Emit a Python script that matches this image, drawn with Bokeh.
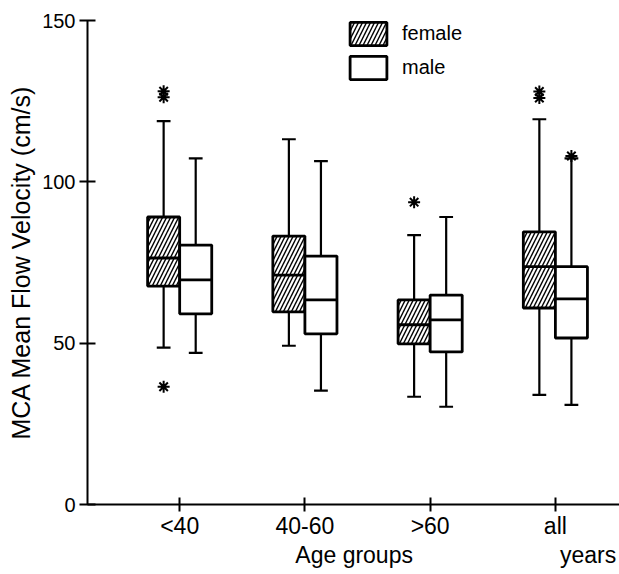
from bokeh.plotting import figure
from bokeh.models import Range1d, FixedTicker, Legend, LegendItem, ColumnDataSource
from bokeh.embed import file_html
from bokeh.resources import INLINE

# ---- data ----
groups = ["<40", "40-60", ">60", "all"]

f_low = [48.6, 49.2, 33.4, 34.0]
f_q1 = [67.7, 59.7, 49.8, 60.9]
f_med = [76.4, 71.1, 55.7, 73.7]
f_q3 = [89.1, 83.2, 63.4, 84.5]
f_up = [118.8, 113.2, 83.5, 119.4]

m_low = [47.0, 35.3, 30.3, 30.9]
m_q1 = [59.1, 52.9, 47.3, 51.6]
m_med = [69.6, 63.4, 57.2, 63.7]
m_q3 = [80.4, 77.0, 64.9, 73.7]
m_up = [107.3, 106.4, 89.1, 107.3]

f_out_group = ["<40", "<40", "<40", ">60", "all", "all"]
f_out_val = [128.1, 126.2, 36.5, 93.7, 128.0, 126.0]
m_out_group = ["all"]
m_out_val = [108.0]

y_ticks = [0, 50, 100, 150]
x_title = "Age groups"
x_unit = "years"
y_title = "MCA Mean Flow Velocity (cm/s)"

FONT = "Liberation Sans"
OFF = 0.128
BW = 0.256
CAP = 0.055

p = figure(width=619, height=570, x_range=Range1d(-0.736, 3.512), y_range=Range1d(0, 150),
           output_backend="svg", toolbar_location=None,
           min_border_left=87, min_border_right=0, min_border_top=20, min_border_bottom=65)
p.outline_line_color = None
p.xgrid.visible = False
p.ygrid.visible = False
p.background_fill_color = "white"
p.border_fill_color = "white"


def draw(low, q1, med, q3, up, offset, hatch):
    xs = [i + offset for i in range(len(groups))]
    src = ColumnDataSource(dict(
        x=xs, low=low, q1=q1, med=med, q3=q3, up=up,
        xl=[x - BW / 2 for x in xs], xr=[x + BW / 2 for x in xs],
        cl=[x - CAP for x in xs], cr=[x + CAP for x in xs]))
    p.segment("x", "q3", "x", "up", source=src, line_color="black", line_width=2.2)
    p.segment("x", "q1", "x", "low", source=src, line_color="black", line_width=2.2)
    p.segment("cl", "up", "cr", "up", source=src, line_color="black", line_width=2.2)
    p.segment("cl", "low", "cr", "low", source=src, line_color="black", line_width=2.2)
    kw = dict(fill_color="white", line_color="black", line_width=2.8)
    if hatch:
        kw.update(hatch_pattern="/", hatch_color="black", hatch_scale=8, hatch_weight=1.4)
    r = p.vbar(x="x", width=BW, bottom="q1", top="q3", source=src, **kw)
    p.segment("xl", "med", "xr", "med", source=src, line_color="black", line_width=2.8)
    return r


rf = draw(f_low, f_q1, f_med, f_q3, f_up, -OFF, True)
rm = draw(m_low, m_q1, m_med, m_q3, m_up, OFF, False)

p.scatter([groups.index(g) - OFF for g in f_out_group], f_out_val, marker="asterisk",
          size=12, line_color="black", line_width=2)
p.scatter([groups.index(g) + OFF for g in m_out_group], m_out_val, marker="asterisk",
          size=12, line_color="black", line_width=2)

# axes
for ax in (p.xaxis, p.yaxis):
    ax.axis_line_width = 2
    ax.axis_line_color = "black"
    ax.major_tick_line_width = 2
    ax.major_tick_line_color = "black"
    ax.minor_tick_line_color = None
    ax.major_label_text_font = FONT
    ax.major_label_text_color = "black"
    ax.axis_label_text_font = FONT
    ax.axis_label_text_font_style = "normal"
    ax.axis_label_text_color = "black"

p.yaxis.ticker = FixedTicker(ticks=y_ticks)
p.yaxis.major_tick_out = 8
p.yaxis.major_tick_in = 8
p.yaxis.major_label_text_font_size = "20px"
p.yaxis.axis_label = y_title
p.yaxis.axis_label_text_font_size = "25px"
p.yaxis.axis_label_standoff = 4
p.yaxis.major_label_standoff = 4

NB = "\u00a0"
p.xaxis.ticker = FixedTicker(ticks=list(range(len(groups))))
p.xaxis.major_label_overrides = {i: g for i, g in enumerate(groups)}
p.xaxis.major_tick_out = 7
p.xaxis.major_tick_in = 7
p.xaxis.major_label_text_font_size = "23px"
p.xaxis.axis_label = NB * 32 + x_title + NB * 23 + x_unit
p.xaxis.axis_label_text_font_size = "23px"
p.xaxis.axis_label_standoff = 0
p.xaxis.major_label_standoff = 1

legend = Legend(items=[LegendItem(label="female", renderers=[rf]),
                       LegendItem(label="male", renderers=[rm])],
                location=(258, 422), padding=0, margin=0, spacing=5,
                glyph_width=46, glyph_height=29, label_height=29, label_standoff=11,
                label_text_font=FONT, label_text_font_size="20px", label_text_color="black",
                border_line_alpha=0, background_fill_alpha=0)
p.add_layout(legend)

open("out.html", "w").write(file_html(p, INLINE))
